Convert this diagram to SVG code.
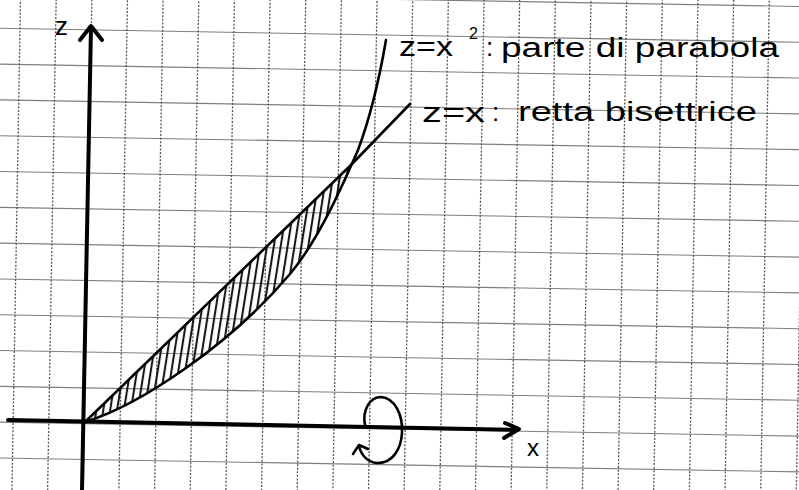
<svg xmlns="http://www.w3.org/2000/svg" width="799" height="490" viewBox="0 0 799 490">
<defs>
<style>
.hl{stroke:#7e7e7e;stroke-width:1.1;fill:none}
.vl{stroke:#555;stroke-width:1.3;stroke-dasharray:2 1.6;fill:none}
.ax{stroke:#000;stroke-width:4;fill:none;stroke-linecap:round;stroke-linejoin:round}
.cv{stroke:#000;stroke-width:2.6;fill:none;stroke-linecap:round;stroke-linejoin:round}
.t{font-family:"Liberation Sans","DejaVu Sans",sans-serif;fill:#000}
</style>
<pattern id="hatch" patternUnits="userSpaceOnUse" width="6.8" height="40" patternTransform="rotate(9)">
<line x1="3" y1="0" x2="3" y2="40" stroke="#111" stroke-width="2"/>
</pattern>
</defs>
<rect width="799" height="490" fill="#fff"/>
<g id="grid" transform="rotate(1)">
<path class="hl" d="M-20 -7.5H830M-20 28.3H830M-20 64.1H830M-20 99.9H830M-20 135.7H830M-20 171.5H830M-20 207.3H830M-20 243.1H830M-20 278.9H830M-20 314.7H830M-20 350.5H830M-20 386.3H830M-20 422.1H830M-20 457.9H830M-20 493.7H830"/>
<path class="vl" d="M-15.15 -20V510M20.5 -20V510M56.15 -20V510M91.8 -20V510M127.45 -20V510M163.1 -20V510M198.75 -20V510M234.4 -20V510M270.05 -20V510M305.7 -20V510M341.35 -20V510M377 -20V510M412.65 -20V510M448.3 -20V510M483.95 -20V510M519.6 -20V510M555.25 -20V510M590.9 -20V510M626.55 -20V510M662.2 -20V510M697.85 -20V510M733.5 -20V510M769.15 -20V510M804.8 -20V510"/>
</g>
<g id="region">
<path fill="url(#hatch)" d="M86 422 L350 166 C338 196 315 243 290 274 C230 345 140 405 86 422 Z"/>
</g>
<g id="axes">
<path class="ax" d="M91 27 L82 490"/>
<path class="ax" d="M80 40 L91 26 L102 40"/>
<path class="ax" d="M8 420 L517 430"/>
<path class="ax" d="M505 423 L519 429 L504 438"/>
</g>
<g id="curves">
<path id="retta" class="cv" d="M85 422 L350 166 L410 104"/>
<path id="parabola" class="cv" d="M85 422 C140 405 230 345 290 274 C320 238 345 180 358 150 C370 118 380 75 386 40"/>
<path id="rotazione" class="cv" stroke-width="3" d="M365 425 C362 410 370 397 381 397 C395 398 403 415 402 433 C401 450 392 463 378 463 C368 463 361 455 359 446 M353 454 L359 445 L368 449"/>
</g>
<g id="label-z"><text class="t" x="55" y="35" font-size="26">z</text></g>
<g id="label-x"><text class="t" x="527" y="456" font-size="24">x</text></g>
<g id="label-parabola">
<text class="t" x="399" y="56" font-size="27" textLength="54" lengthAdjust="spacingAndGlyphs">z=x</text>
<text class="t" x="469" y="39" font-size="16">2</text>
<text class="t" x="486" y="56" font-size="26">:</text>
<text class="t" x="501" y="57" font-size="27" textLength="278" lengthAdjust="spacingAndGlyphs">parte di parabola</text>
</g>
<g id="label-retta">
<text class="t" x="422" y="122" font-size="27" textLength="63" lengthAdjust="spacingAndGlyphs">z=x</text>
<text class="t" x="492" y="121" font-size="26">:</text>
<text class="t" x="518" y="121" font-size="27" textLength="239" lengthAdjust="spacingAndGlyphs">retta bisettrice</text>
</g>
</svg>
